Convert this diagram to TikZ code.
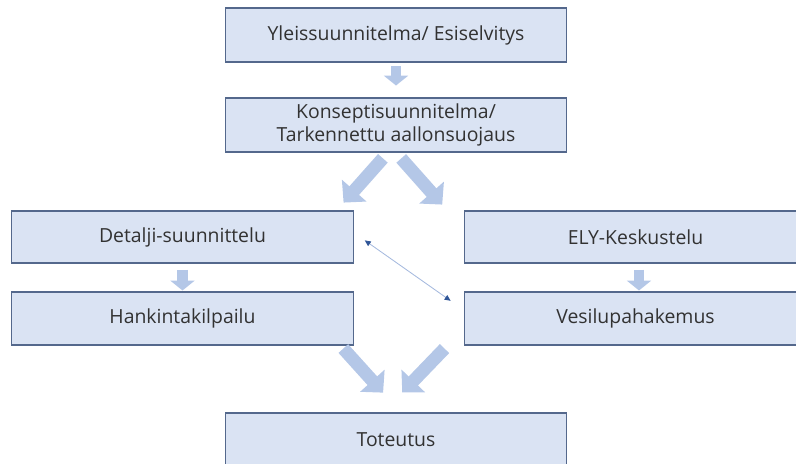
\documentclass[tikz,border=0pt]{standalone}
\usepackage{fontspec}
\setmainfont{Open Sans}
\usepackage{tikz}
\usetikzlibrary{arrows.meta,calc}
\usepackage{xcolor}
\definecolor{boxfill}{RGB}{218,227,243}
\definecolor{boxline}{RGB}{84,104,140}
\definecolor{barfill}{RGB}{180,199,231}
\definecolor{linkline}{RGB}{165,185,222}
\definecolor{linktip}{RGB}{47,85,151}
\definecolor{txt}{RGB}{50,50,50}

\begin{document}
\begin{tikzpicture}[x=0.025cm,y=-0.025cm,font=\fontsize{13.8}{16.5}\selectfont,
  box/.style={draw=boxline,fill=boxfill,line width=0.75pt,text=txt,inner sep=0pt,align=center,minimum width=8.525cm,minimum height=1.325cm},
  vbar/.style={barfill,line width=7.5pt,-{Triangle[length=7pt,width=17pt]}},
  dbar/.style={barfill,line width=9.2pt,-{Triangle[length=11.4pt,width=22.8pt]}},
  link/.style={linkline,line width=0.6pt,>={Triangle[length=4.3pt,width=3.8pt,color=linktip]},<->}]
\useasboundingbox (0,0) rectangle (796,463);
\clip (0,0) rectangle (796,463);
\node[box,minimum height=1.35cm] (yleis) at (396,35) {Yleissuunnitelma/ Esiselvitys};
\node[box,minimum height=1.35cm] (konsepti) at (396,125) {Konseptisuunnitelma/\\Tarkennettu aallonsuojaus};
\node[box,minimum height=1.3cm] (detalji) at (182.5,237) {\raisebox{-1.5pt}{Detalji-suunnittelu}};
\node[box] (hankinta) at (182.5,318.5) {Hankintakilpailu};
\node[box,minimum height=1.3cm] (ely) at (635.5,237) {\raisebox{-1.5pt}{ELY-Keskustelu}};
\node[box] (vesilupa) at (635.5,318.5) {Vesilupahakemus};
\node[box] (toteutus) at (396,439.5) {Toteutus};
\draw[vbar,shorten <=2.8pt,shorten >=8.5pt] (yleis.south) -- (konsepti.north);
\draw[vbar,shorten <=4.3pt,shorten >=0.7pt] (detalji.south) -- (hankinta.north);
\draw[vbar,shorten <=4.3pt,shorten >=0.7pt] ($(ely.south)+(3.5,0)$) -- ($(vesilupa.north)+(3.5,0)$);
\draw[dbar,shorten <=5.5pt,shorten >=7.5pt] ($(konsepti.south)+(-8,0)$) -- ($(detalji.north east)+(-17,0)$);
\draw[dbar,shorten <=5.6pt,shorten >=5.6pt] (konsepti.south) -- ($(ely.north west)+(-17,0)$);
\draw[dbar,shorten <=2.9pt,shorten >=19pt] ($(hankinta.south east)+(-13,0)$) -- ($(toteutus.north)+(5,0)$);
\draw[dbar,shorten <=3pt,shorten >=19.7pt] ($(vesilupa.south west)+(-17,0)$) -- ($(toteutus.north)+(-13,0)$);
\draw[link,shorten <=9.7pt,shorten >=12pt] ($(detalji.east)+(0,-4.5)$) -- ($(vesilupa.west)+(0,-8)$);
\end{tikzpicture}
\end{document}
